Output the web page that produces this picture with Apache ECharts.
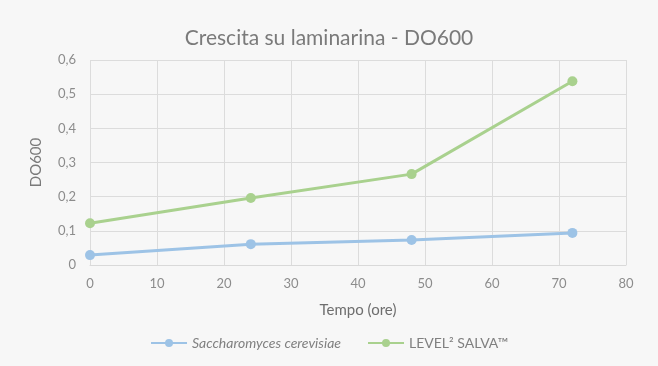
<!DOCTYPE html>
<html><head><meta charset="utf-8">
<script src="https://cdn.jsdelivr.net/npm/echarts@6/dist/echarts.min.js"></script>
<style>html,body{margin:0;padding:0;background:#f7f7f7}#c{width:658px;height:366px}</style>
</head><body><div id="c"></div>
<script>
const hours = [0, 24, 48, 72];
const saccharomyces = [0.029, 0.061, 0.073, 0.094];
const levelSalva = [0.122, 0.196, 0.266, 0.538];
const xTicks = {min: 0, max: 80, interval: 10};
const yTicks = {min: 0, max: 0.6, interval: 0.1};
const seriesNames = ['Saccharomyces cerevisiae', 'LEVEL² SALVA™'];

const chart = echarts.init(document.getElementById('c'));
const font = 'Lato, "Open Sans", sans-serif';
chart.setOption({
  backgroundColor: '#f7f7f7',
  animation: false,
  textStyle: {fontFamily: font},
  title: {text: 'Crescita su laminarina - DO600', left: 'center', top: 23,
    textStyle: {fontFamily: font, fontSize: 21, fontWeight: 'normal', color: '#7a7a7a'}},
  grid: {left: 90, right: 32, top: 60, bottom: 101},
  legend: {bottom: 11, left: 'center', itemGap: 26, itemWidth: 36, itemHeight: 10,
    textStyle: {color: '#808080', fontSize: 14, fontFamily: font},
    data: [
      {name: seriesNames[0], textStyle: {fontStyle: 'italic'}},
      {name: seriesNames[1]}
    ]},
  xAxis: {type: 'value', min: xTicks.min, max: xTicks.max, interval: xTicks.interval,
    name: 'Tempo (ore)', nameLocation: 'middle', nameGap: 38,
    nameTextStyle: {color: '#6e6e6e', fontSize: 15, fontWeight: 'normal', fontFamily: font},
    axisLine: {show: true, lineStyle: {color: '#d9d9d9'}}, axisTick: {show: false},
    axisLabel: {color: '#8c8c8c', fontSize: 13, margin: 12},
    splitLine: {show: true, lineStyle: {color: '#dcdcdc'}}},
  yAxis: {type: 'value', min: yTicks.min, max: yTicks.max, interval: yTicks.interval,
    name: 'DO600', nameLocation: 'middle', nameGap: 46,
    nameTextStyle: {color: '#7a7a7a', fontSize: 15, fontWeight: 'normal', fontFamily: font},
    axisLine: {show: false}, axisTick: {show: false},
    axisLabel: {color: '#8c8c8c', fontSize: 13, margin: 14,
      formatter: v => String(Math.round(v * 10) / 10).replace('.', ',')},
    splitLine: {show: true, lineStyle: {color: '#dcdcdc'}}},
  series: [
    {name: seriesNames[0], type: 'line', data: hours.map((h, i) => [h, saccharomyces[i]]),
      symbol: 'circle', symbolSize: 10, color: '#9dc3e6',
      lineStyle: {width: 3, color: '#9dc3e6'}, itemStyle: {color: '#9dc3e6'}},
    {name: seriesNames[1], type: 'line', data: hours.map((h, i) => [h, levelSalva[i]]),
      symbol: 'circle', symbolSize: 10, color: '#a9d18e',
      lineStyle: {width: 3, color: '#a9d18e'}, itemStyle: {color: '#a9d18e'}}
  ]
});
</script></body></html>
